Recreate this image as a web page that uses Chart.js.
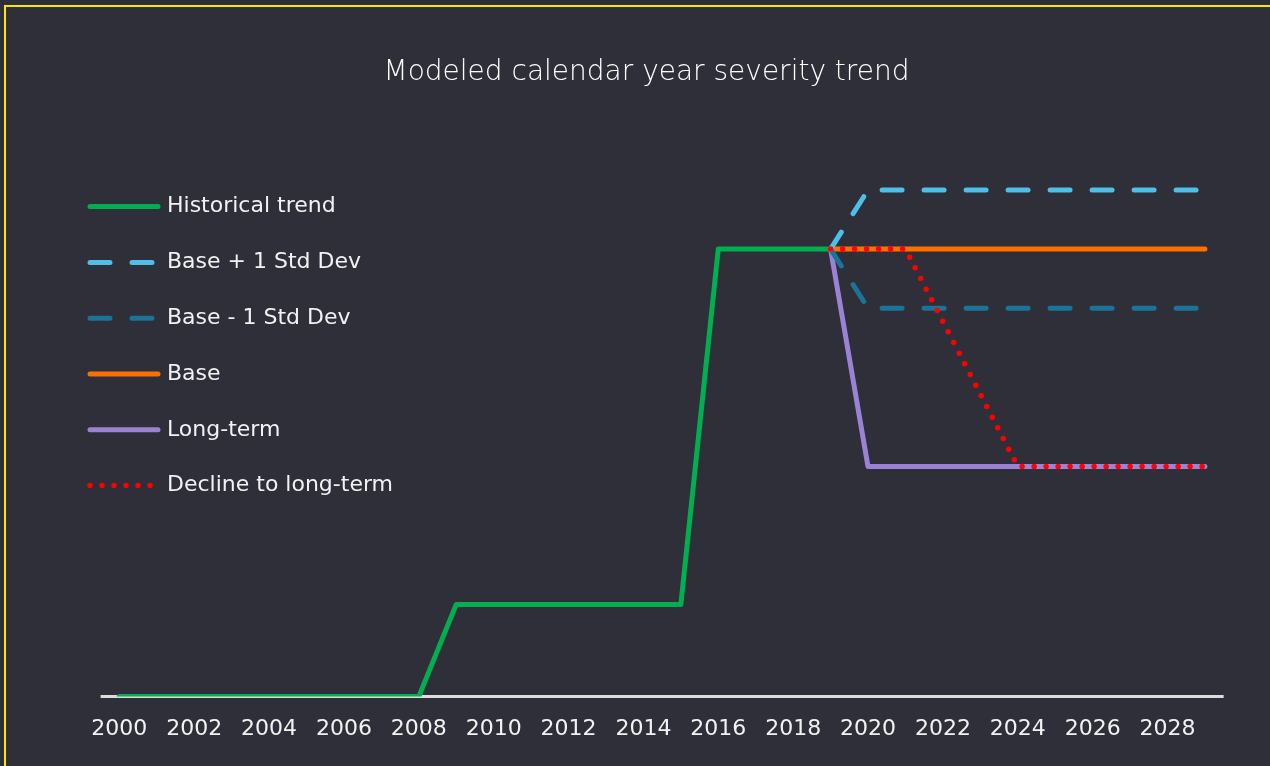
<!DOCTYPE html>
<html>
<head>
<meta charset="utf-8">
<script src="https://cdn.jsdelivr.net/npm/chart.js@4/dist/chart.umd.min.js"></script>
<style>
    html, body { margin: 0; padding: 0; background: #2f2f39; overflow: hidden; }
    #wrap { position: relative; width: 1270px; height: 766px; }
    #frame { position: absolute; left: 4px; top: 5px; width: 1300px; height: 800px; border: 2px solid #ffe600; pointer-events: none; }
    canvas { position: absolute; left: 0; top: 0; }
</style>
</head>
<body>
<div id="wrap">
    <canvas id="trendChart" width="1270" height="766"></canvas>
    <div id="frame"></div>
</div>
<script>
const years = [2000, 2001, 2002, 2003, 2004, 2005, 2006, 2007, 2008, 2009,
    2010, 2011, 2012, 2013, 2014, 2015, 2016, 2017, 2018, 2019,
    2020, 2021, 2022, 2023, 2024, 2025, 2026, 2027, 2028, 2029];

const historical = [0, 0, 0, 0, 0, 0, 0, 0, 0, 1.03,
    1.03, 1.03, 1.03, 1.03, 1.03, 1.03, 5.0, 5.0, 5.0, 5.0,
    null, null, null, null, null, null, null, null, null, null];
const basePlus = [null, null, null, null, null, null, null, null, null, null,
    null, null, null, null, null, null, null, null, null, 5.0,
    5.66, 5.66, 5.66, 5.66, 5.66, 5.66, 5.66, 5.66, 5.66, 5.66];
const baseMinus = [null, null, null, null, null, null, null, null, null, null,
    null, null, null, null, null, null, null, null, null, 5.0,
    4.34, 4.34, 4.34, 4.34, 4.34, 4.34, 4.34, 4.34, 4.34, 4.34];
const base = [null, null, null, null, null, null, null, null, null, null,
    null, null, null, null, null, null, null, null, null, 5.0,
    5.0, 5.0, 5.0, 5.0, 5.0, 5.0, 5.0, 5.0, 5.0, 5.0];
const longTerm = [null, null, null, null, null, null, null, null, null, null,
    null, null, null, null, null, null, null, null, null, 5.0,
    2.57, 2.57, 2.57, 2.57, 2.57, 2.57, 2.57, 2.57, 2.57, 2.57];
const decline = [null, null, null, null, null, null, null, null, null, null,
    null, null, null, null, null, null, null, null, null, 5.0,
    5.0, 5.0, 4.19, 3.38, 2.57, 2.57, 2.57, 2.57, 2.57, 2.57];

const textColor = '#f2f2f2';
const fontFamily = '"DejaVu Sans", Verdana, sans-serif';

// light axis line under the series, only across the year range
const baselinePlugin = {
    id: 'baseline',
    beforeDatasetsDraw(chart) {
        const x = chart.scales.x;
        const y = chart.scales.y;
        const ctx = chart.ctx;
        ctx.save();
        ctx.strokeStyle = '#dcdcdc';
        ctx.lineWidth = 3;
        ctx.beginPath();
        ctx.moveTo(x.getPixelForValue(1999.5), y.getPixelForValue(0));
        ctx.lineTo(x.getPixelForValue(2029.5), y.getPixelForValue(0));
        ctx.stroke();
        ctx.restore();
    }
};

// legend drawn by hand so the dashes and dots show like in the lines
const sideLegend = {
    id: 'sideLegend',
    afterDraw(chart) {
        const ctx = chart.ctx;
        const top = chart.chartArea.top + 47;
        const step = 55.8;
        ctx.save();
        chart.data.datasets.forEach((ds, i) => {
            const y = top + i * step;
            ctx.strokeStyle = ds.borderColor;
            ctx.lineWidth = ds.borderWidth;
            ctx.lineCap = 'round';
            ctx.setLineDash(ds.borderDash || []);
            ctx.beginPath();
            ctx.moveTo(90, y);
            ctx.lineTo(158, y);
            ctx.stroke();
            ctx.setLineDash([]);
            ctx.fillStyle = textColor;
            ctx.font = '22px ' + fontFamily;
            ctx.textBaseline = 'middle';
            ctx.textAlign = 'left';
            ctx.fillText(ds.label, 167, y);
        });
        ctx.restore();
    }
};

function series(label, data, color, order, extra) {
    return Object.assign({
        label: label,
        data: data,
        order: order,
        borderColor: color,
        backgroundColor: color,
        borderWidth: 5,
        borderCapStyle: 'round',
        borderJoinStyle: 'round',
        pointRadius: 0,
        pointHoverRadius: 0,
        tension: 0,
        fill: false,
        spanGaps: false,
    }, extra || {});
}

const ctx = document.getElementById('trendChart').getContext('2d');

new Chart(ctx, {
    type: 'line',
    data: {
        labels: years,
        datasets: [
            series('Historical trend', historical, '#00b050', 6),
            series('Base + 1 Std Dev', basePlus, '#4cbfea', 2, { borderDash: [20, 22] }),
            series('Base - 1 Std Dev', baseMinus, '#1a7399', 3, { borderDash: [20, 22] }),
            series('Base', base, '#ff6f00', 5),
            series('Long-term', longTerm, '#9a83d4', 4),
            series('Decline to long-term', decline, '#ff0000', 1, { borderDash: [0, 12], borderWidth: 5.5 }),
        ],
    },
    options: {
        responsive: false,
        animation: false,
        layout: {
            padding: { left: 54, right: 31, top: 0, bottom: 5 },
        },
        scales: {
            x: {
                type: 'linear',
                min: 1998.255,
                max: 2029.91,
                grid: { display: false, drawTicks: false },
                border: { display: false },
                ticks: {
                    stepSize: 2,
                    includeBounds: false,
                    autoSkip: false,
                    maxRotation: 0,
                    padding: 19,
                    color: textColor,
                    font: { family: fontFamily, size: 22 },
                    callback: function (value) {
                        return String(value);
                    },
                },
            },
            y: {
                display: false,
                min: 0,
                max: 6,
            },
        },
        plugins: {
            title: {
                display: true,
                text: 'Modeled calendar year severity trend',
                color: '#ffffff',
                font: { family: fontFamily, size: 28, weight: '200', lineHeight: 1.2 },
                padding: { top: 56, bottom: 70 },
            },
            legend: { display: false },
            tooltip: { enabled: false },
        },
    },
    plugins: [baselinePlugin, sideLegend],
});
</script>
</body>
</html>
